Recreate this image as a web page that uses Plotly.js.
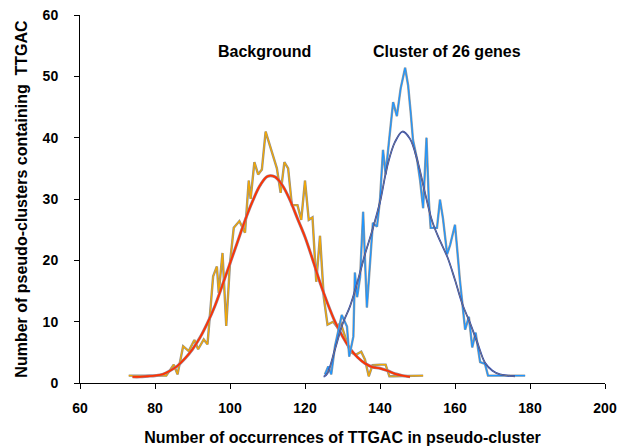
<!DOCTYPE html>
<html>
<head>
<meta charset="utf-8">
<script src="https://cdn.plot.ly/plotly-3.0.1.min.js"></script>
<style>body{margin:0;padding:0;background:#fff}#chart{width:626px;height:448px}</style>
</head>
<body>
<div id="chart"></div>
<script>
// Background: raw histogram (jagged)
const bgRawX = [73,83,85,86,87.5,89,90.5,91.5,93,94,95.5,96.5,97,98,99,100,101,102.5,104,105,105.5,106.5,107.5,108.5,109.5,110.5,111.5,112.5,113.5,114.5,115.5,116.5,118,119,120,121,122,123,124,125,126,127.5,128.5,129.5,131,132,133.5,135,136,137,138,139,140,141.5,142.5,143.5,151.5];
const bgRawY = [1.2,1.2,3,1.4,6,5.2,7,5.5,7.1,6.3,17.4,19,14.7,21.2,9.3,19.6,25.3,26.4,24.5,33,30,36,34,34.8,41,39,37,35,31,36,35,29,29,26.6,33,26.6,27,16.5,24,14,9.5,10,9.2,9.8,7,5.1,4.6,5.1,3.8,1.1,2.9,3,3,3,1.1,1.1,1.2];
// Background: fitted curve
const bgFitX = [74,76,78,80,82,84,86,88,90,92,94,96,98,100,102,104,106,108,110,112,114,116,118,120,122,124,126,128,130,132,134,136,138,140,142,144,146,148];
const bgFitY = [1.0,1.0,1.1,1.2,1.4,2.0,2.8,4.0,5.5,7.4,9.8,12.6,16.0,19.5,23.0,26.5,29.6,32.2,33.7,33.6,32.2,29.8,26.8,23.8,20.2,16.4,13.0,10.0,7.6,5.6,4.2,3.2,2.6,2.4,2.0,1.5,1.2,1.0];
// Cluster of 26 genes: raw histogram (jagged)
const clRawX = [125.3,126.2,127,128,129.8,131.2,131.8,132.9,133.3,133.9,134.7,135.5,136.5,137.3,138.1,139.2,140,140.8,141.5,142.5,143.5,144.5,145.5,146.7,147.5,148.2,148.8,149.9,150.7,151.5,152.4,153,153.5,155.2,156,156.8,157.9,158.7,160,160.5,161.3,162.7,163.7,164.6,165.5,166.7,168,168.8,178.7];
const clRawY = [1.4,2.7,1.4,6,11.1,9.2,4.3,7.6,18,14,17.3,27.9,12.3,18.5,26.1,25.5,29.9,38,34,40,45.8,43.5,48,51.4,48.5,44,39.6,36.4,33,28.5,40,30,25.3,25.3,29.9,26.8,21,22.5,25.8,22.4,16.8,8.7,10.8,5.8,8.2,3.4,3.1,1.2,1.2];
// Cluster of 26 genes: fitted curve
const clFitX = [125,126,128,130,132,134,136,138,140,142,144,146,148,150,152,154,156,158,160,162,164,166,168,170,172,174,176];
const clFitY = [1.0,1.6,5.5,9.6,12.5,16.5,21,25,29.5,35.5,39.3,41,39.8,36.2,31,26.2,23.2,20.5,16.8,12.8,9.8,6.5,3.3,2.0,1.4,1.2,1.1];

const xTicks = [60,80,100,120,140,160,180,200];
const yTicks = [0,10,20,30,40,50,60];
const labels = ["Background", "Cluster of 26 genes"];

const F = "Liberation Sans, Arial, sans-serif";

const traces = [
  {x: bgRawX, y: bgRawY, mode: 'lines', line: {color: '#8f8f8f', width: 2.4}, hoverinfo: 'skip'},
  {x: bgRawX, y: bgRawY, mode: 'lines', line: {color: '#f5a800', width: 1.2}},
  {x: bgFitX, y: bgFitY, mode: 'lines', line: {color: '#a08090', width: 3.0, shape: 'spline'}, hoverinfo: 'skip'},
  {x: bgFitX, y: bgFitY, mode: 'lines', line: {color: '#ff3300', width: 1.8, shape: 'spline'}},
  {x: clRawX, y: clRawY, mode: 'lines', line: {color: '#9a9a9a', width: 2.4}, hoverinfo: 'skip'},
  {x: clRawX, y: clRawY, mode: 'lines', line: {color: '#1e96ff', width: 1.2}},
  {x: clFitX, y: clFitY, mode: 'lines', line: {color: '#2040c0', width: 1.8, shape: 'spline'}},
  {x: clFitX, y: clFitY, mode: 'lines', line: {color: '#7a7a7a', width: 1.0, shape: 'spline'}, hoverinfo: 'skip'}
];

const layout = {
  width: 626, height: 448,
  margin: {l: 80, r: 21, t: 15, b: 64.5},
  paper_bgcolor: '#fff', plot_bgcolor: '#fff',
  showlegend: false,
  font: {family: F, color: '#000'},
  xaxis: {
    range: [60, 200], tickvals: xTicks, ticktext: xTicks.map(String),
    showgrid: false, zeroline: false, showline: true, linecolor: '#000', linewidth: 1,
    ticks: 'outside', ticklen: 5, tickcolor: '#000', ticklabelstandoff: 7,
    tickfont: {family: F, size: 14, weight: 'bold', color: '#000'},
    title: {text: 'Number of occurrences of TTGAC in pseudo-cluster', font: {family: F, size: 16, weight: 'bold', color: '#000'}, standoff: 17},
    automargin: false
  },
  yaxis: {
    range: [0, 60], tickvals: yTicks, ticktext: yTicks.map(String),
    showgrid: false, zeroline: false, showline: true, linecolor: '#000', linewidth: 1,
    ticks: 'outside', ticklen: 5, tickcolor: '#000', ticklabelstandoff: 13,
    tickfont: {family: F, size: 14, weight: 'bold', color: '#000'},
    title: {text: 'Number of pseudo-clusters containing  TTGAC', font: {family: F, size: 16, weight: 'bold', color: '#000'}, standoff: 11},
    automargin: false
  },
  annotations: [
    {x: 109.3, y: 54, xref: 'x', yref: 'y', text: labels[0], showarrow: false, font: {family: F, size: 16, weight: 'bold', color: '#000'}},
    {x: 157.9, y: 54, xref: 'x', yref: 'y', text: labels[1], showarrow: false, font: {family: F, size: 16, weight: 'bold', color: '#000'}}
  ]
};

Plotly.newPlot('chart', traces, layout, {staticPlot: true, displayModeBar: false});
</script>
</body>
</html>
